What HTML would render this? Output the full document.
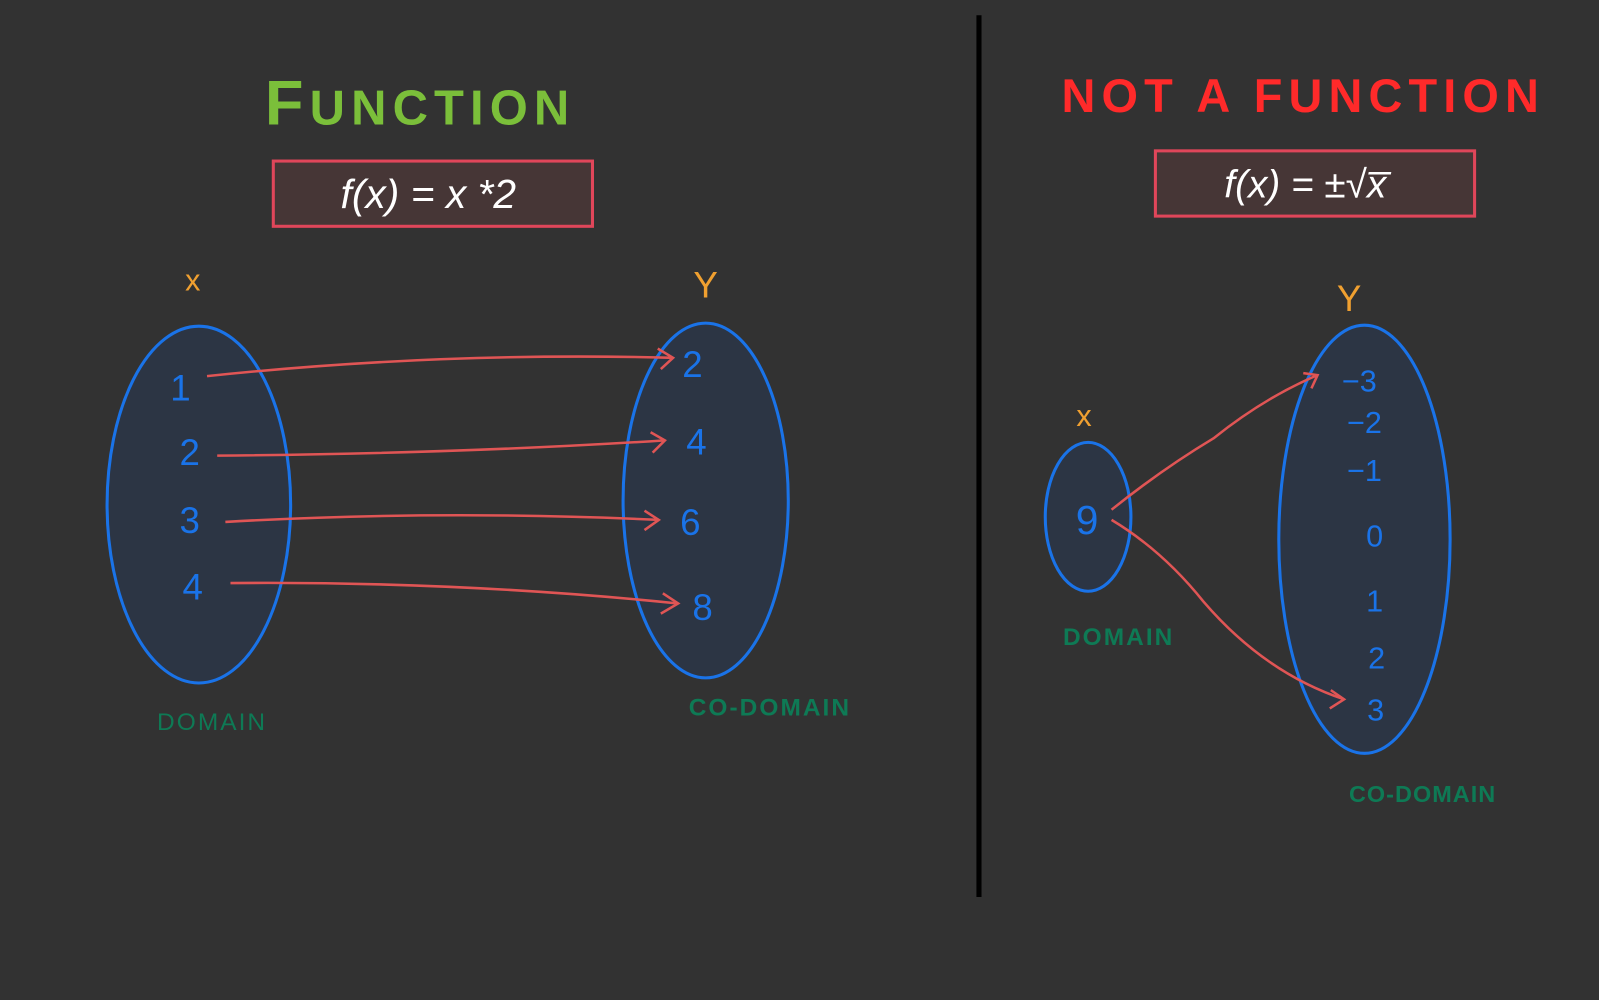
<!DOCTYPE html>
<html><head><meta charset="utf-8"><style>
html,body{margin:0;padding:0;background:#323232;}
svg{display:block}
text{font-family:"Liberation Sans",sans-serif;}
</style></head><body>
<svg width="1599" height="1000" viewBox="0 0 1568 981" preserveAspectRatio="none" xmlns="http://www.w3.org/2000/svg">
<rect width="1568" height="981" fill="#323232"/>
<line x1="960" y1="15" x2="960" y2="880" stroke="#000" stroke-width="5"/>
<!-- LEFT -->
<text x="412" y="122" fill="#7bbf3a" font-size="62" font-weight="bold" text-anchor="middle" letter-spacing="6">F<tspan font-size="48">UNCTION</tspan></text>
<rect x="268" y="158" width="313" height="64" fill="#463636" stroke="#e0465a" stroke-width="3"/>
<text x="420" y="204" fill="#fff" font-size="40" text-anchor="middle" font-style="italic">f(x) = x *2</text>
<text x="189" y="285" fill="#f0a030" font-size="30" text-anchor="middle">x</text>
<text x="692" y="292" fill="#f0a030" font-size="36" text-anchor="middle">Y</text>
<ellipse cx="195" cy="495" rx="90" ry="175" fill="#2c3544" stroke="#1a73e8" stroke-width="3"/>
<ellipse cx="692" cy="491" rx="81" ry="174" fill="#2c3544" stroke="#1a73e8" stroke-width="3"/>
<g fill="#1a73e8" font-size="36" text-anchor="middle">
<text x="177" y="393">1</text><text x="186" y="456">2</text><text x="186" y="523">3</text><text x="189" y="588">4</text>
<text x="679" y="370">2</text><text x="683" y="446">4</text><text x="677" y="525">6</text><text x="689" y="608">8</text>
</g>
<g fill="none" stroke="#e05555" stroke-width="2.5">
<path d="M203 369 Q430 345 660 351"/><path d="M645 342 L660 351 L648 362"/>
<path d="M213 447 Q450 445 652 432"/><path d="M638 424 L652 432 L640 444"/>
<path d="M221 512 Q430 500 646 510"/><path d="M632 501 L646 510 L632 520"/>
<path d="M226 572 Q450 570 665 592"/><path d="M650 582 L665 592 L648 602"/>
</g>
<text x="208" y="716" fill="#0e7a55" font-size="24" text-anchor="middle" letter-spacing="2">DOMAIN</text>
<text x="755" y="702" fill="#0e7a55" font-size="24" font-weight="bold" text-anchor="middle" letter-spacing="2">CO-DOMAIN</text>
<!-- RIGHT -->
<text x="1278" y="110" fill="#ff2a2a" font-size="46" font-weight="bold" text-anchor="middle" letter-spacing="6">NOT  A  FUNCTION</text>
<rect x="1133" y="148" width="313" height="64" fill="#463636" stroke="#e0465a" stroke-width="3"/>
<text x="1280" y="194" fill="#fff" font-size="38" text-anchor="middle" font-style="italic">f(x) = ±√x̅</text>
<text x="1063" y="418" fill="#f0a030" font-size="30" text-anchor="middle">x</text>
<text x="1323" y="305" fill="#f0a030" font-size="36" text-anchor="middle">Y</text>
<ellipse cx="1067" cy="507" rx="42" ry="73" fill="#2c3544" stroke="#1a73e8" stroke-width="3"/>
<ellipse cx="1338" cy="529" rx="84" ry="210" fill="#2c3544" stroke="#1a73e8" stroke-width="3"/>
<g fill="#1a73e8" font-size="30" text-anchor="middle">
<text x="1066" y="524" font-size="40">9</text>
<text x="1333" y="384">−3</text><text x="1338" y="425">−2</text><text x="1338" y="472">−1</text>
<text x="1348" y="536">0</text><text x="1348" y="600">1</text><text x="1350" y="656">2</text><text x="1349" y="707">3</text>
</g>
<g fill="none" stroke="#e05555" stroke-width="2.5">
<path d="M1090 500 Q1140 460 1190 430 Q1240 390 1292 368"/><path d="M1278 366 L1292 368 L1286 381"/>
<path d="M1090 510 Q1140 540 1180 590 Q1240 660 1318 686"/><path d="M1305 677 L1318 686 L1304 695"/>
</g>
<text x="1097" y="633" fill="#0e7a55" font-size="24" font-weight="bold" text-anchor="middle" letter-spacing="2">DOMAIN</text>
<text x="1395" y="787" fill="#0e7a55" font-size="23" font-weight="bold" text-anchor="middle" letter-spacing="1">CO-DOMAIN</text>
</svg>
</body></html>
